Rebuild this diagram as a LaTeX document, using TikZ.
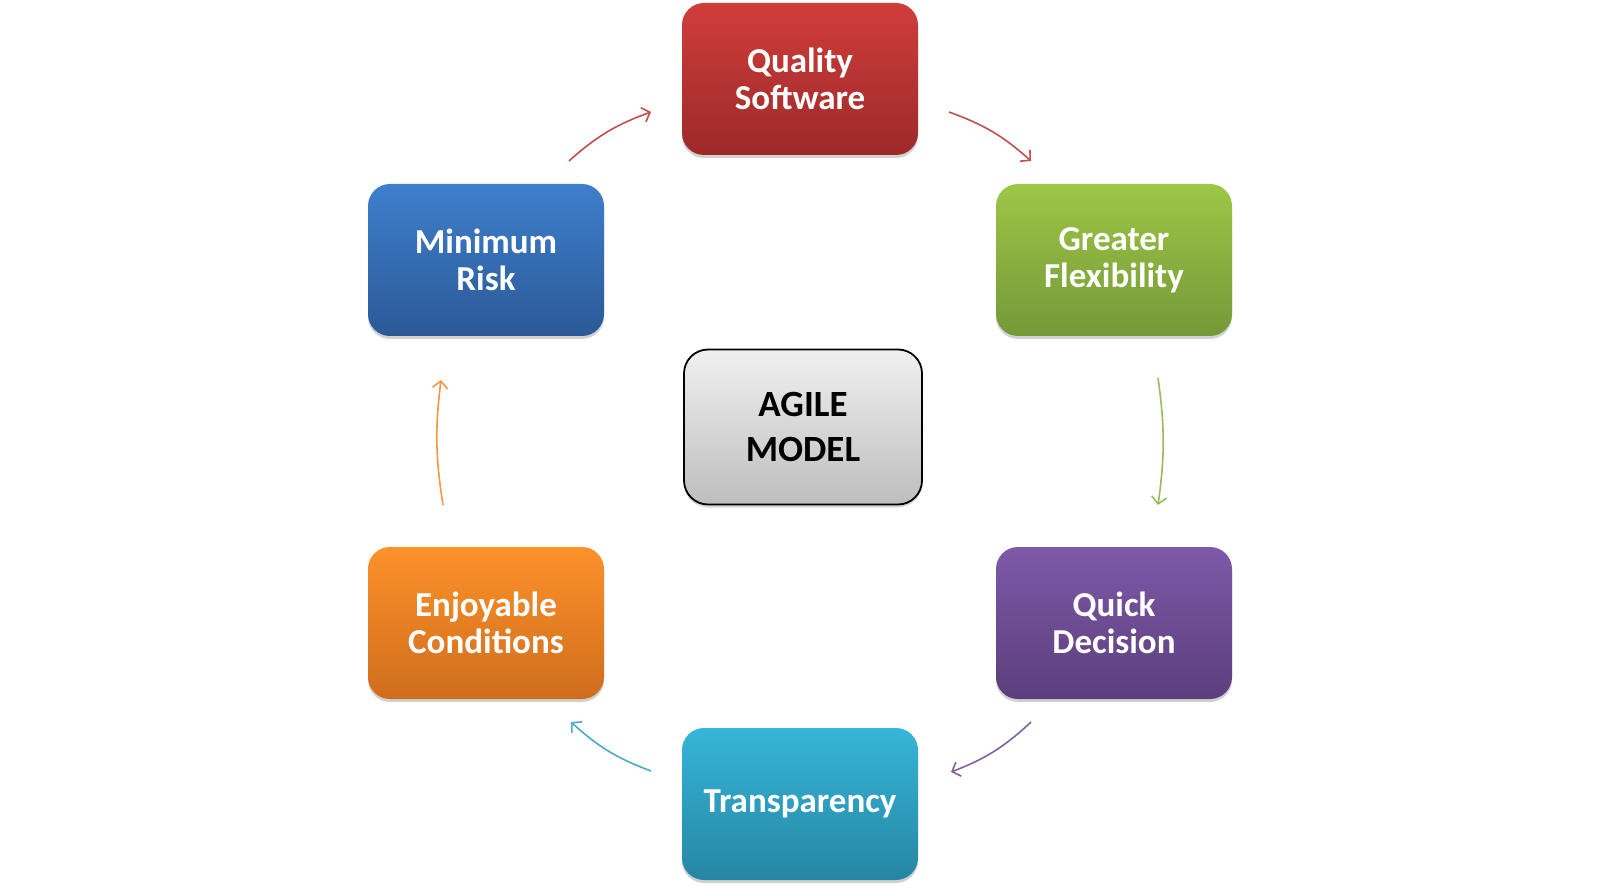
\documentclass[tikz,border=0pt]{standalone}
\usepackage{fontspec}
\setmainfont{Carlito}
\usetikzlibrary{arrows.meta,shadows}
\definecolor{qsT}{HTML}{D03D3B}
\definecolor{qsB}{HTML}{9C2A29}
\definecolor{gfT}{HTML}{9DC746}
\definecolor{gfB}{HTML}{759838}
\definecolor{mrT}{HTML}{3E7FCD}
\definecolor{mrB}{HTML}{2B5996}
\definecolor{qdT}{HTML}{7E59A8}
\definecolor{qdB}{HTML}{5C3E7D}
\definecolor{ecT}{HTML}{FD922B}
\definecolor{ecB}{HTML}{CF6D1D}
\definecolor{trT}{HTML}{36B5D9}
\definecolor{trB}{HTML}{2686A3}
\definecolor{amT}{HTML}{F0F0F0}
\definecolor{amB}{HTML}{BEBEBE}
\definecolor{arR}{HTML}{C0504D}
\definecolor{arG}{HTML}{9BBB59}
\definecolor{arP}{HTML}{8064A2}
\definecolor{arT}{HTML}{4BACC6}
\definecolor{arO}{HTML}{F79646}
\tikzset{
  box/.style={rounded corners=22pt, minimum width=236pt, minimum height=152pt,
    align=center, inner sep=0pt, text=white,
    font=\fontsize{35}{37}\selectfont\bfseries,
    drop shadow={shadow xshift=0pt, shadow yshift=-3pt, opacity=0.18, fill=black}},
  centerbox/.style={rounded corners=24pt, minimum width=238pt, minimum height=155pt,
    align=center, inner sep=0pt, text=black, draw=black, line width=1.8pt,
    top color=amT, bottom color=amB,
    font=\fontsize{37}{45}\selectfont\bfseries,
    drop shadow={shadow xshift=0pt, shadow yshift=-3pt, opacity=0.15, fill=black}},
  conn/.style={line width=1.6pt, -{Straight Barb[length=7pt,width=15pt,line width=1.6pt]}}
}
\begin{document}
\begin{tikzpicture}[x=1pt,y=-1pt]
\useasboundingbox (0,0) rectangle (1600,890);
\fill[white] (0,0) rectangle (1600,890);
\node[box, top color=qsT, bottom color=qsB] (qs) at (800,79) {Quality\\Software};
\node[box, top color=gfT, bottom color=gfB] (gf) at (1114,260) {Greater\\Flexibility};
\node[box, top color=mrT, bottom color=mrB] (mr) at (486,260) {Minimum\\Risk};
\node[box, top color=qdT, bottom color=qdB] (qd) at (1114,623) {Quick\\Decision};
\node[box, top color=ecT, bottom color=ecB] (ec) at (486,623) {Enjoyable\\Conditions};
\node[box, top color=trT, bottom color=trB] (tr) at (800,804) {Transparency};
\node[centerbox] (am) at (803,427) {AGILE\\MODEL};
\coordinate (a1s) at (569,161); \coordinate (a1e) at (651,112);
\coordinate (a2s) at (949,112); \coordinate (a2e) at (1031,161);
\coordinate (a3s) at (1158,378); \coordinate (a3e) at (1158,505);
\coordinate (a4s) at (1031,722); \coordinate (a4e) at (951,772);
\coordinate (a5s) at (651,771); \coordinate (a5e) at (571,722);
\coordinate (a6s) at (443,505); \coordinate (a6e) at (441,380);
\draw[conn, arR] (a1s) to[bend left=11] (a1e);
\draw[conn, arR] (a2s) to[bend left=11] (a2e);
\draw[conn, arG] (a3s) to[bend left=8] (a3e);
\draw[conn, arP] (a4s) to[bend left=11] (a4e);
\draw[conn, arT] (a5s) to[bend left=11] (a5e);
\draw[conn, arO] (a6s) to[bend left=8] (a6e);
\end{tikzpicture}
\end{document}
